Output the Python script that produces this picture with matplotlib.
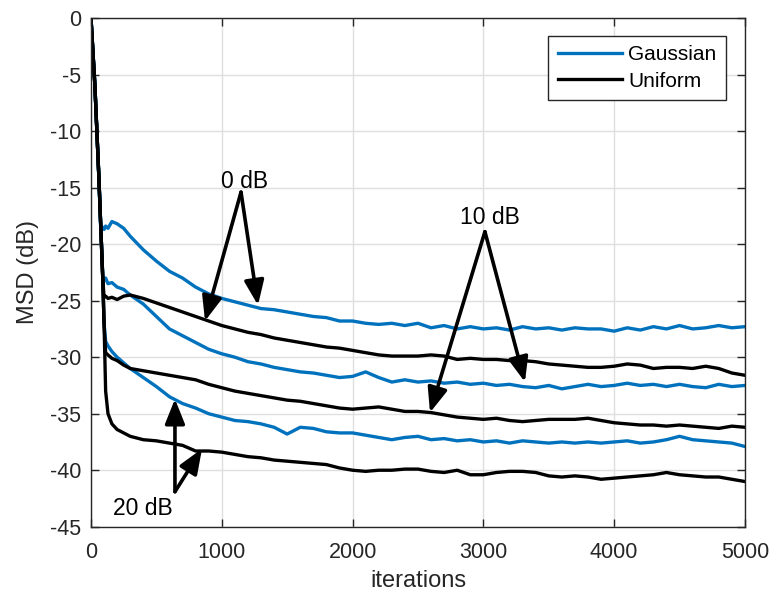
import numpy as np
import matplotlib
matplotlib.use('Agg')
import matplotlib.pyplot as plt

plt.rcParams['font.family'] = ['Liberation Sans', 'DejaVu Sans']
plt.rcParams['axes.unicode_minus'] = False

# iteration grid (dense at start, then every 100)
iters = [0, 30, 60, 75, 90, 100, 112, 130, 160, 200, 250, 300] + list(range(400, 5001, 100))

# Gaussian noise curves (0 dB, 10 dB, 20 dB)
g_0db = [0, -6, -14, -18.8, -18.5, -18.7, -18.4, -18.6, -18.0, -18.2, -18.6, -19.3,
         -20.5, -21.5, -22.4, -23.0, -23.8, -24.4, -24.8, -25.1, -25.4, -25.7, -25.8,
         -26.0, -26.2, -26.4, -26.5, -26.8, -26.8, -27.0, -27.1, -27.0, -27.2, -27.0,
         -27.4, -27.2, -27.5, -27.3, -27.5, -27.4, -27.6, -27.3, -27.5, -27.4, -27.6,
         -27.4, -27.5, -27.5, -27.7, -27.4, -27.6, -27.3, -27.5, -27.2, -27.5, -27.4,
         -27.2, -27.4, -27.3]
g_10db = [0, -6, -14, -18.5, -22.8, -23.2, -23.0, -23.5, -23.4, -23.8, -24.0, -24.5,
          -25.3, -26.4, -27.5, -28.1, -28.7, -29.3, -29.7, -30.0, -30.4, -30.6, -30.9,
          -31.1, -31.3, -31.4, -31.6, -31.8, -31.7, -31.3, -31.8, -32.2, -32.0, -32.2,
          -32.1, -32.3, -32.2, -32.4, -32.3, -32.5, -32.4, -32.6, -32.7, -32.5, -32.8,
          -32.6, -32.4, -32.6, -32.5, -32.3, -32.5, -32.4, -32.6, -32.4, -32.6, -32.7,
          -32.4, -32.6, -32.5]
g_20db = [0, -6, -14, -18.5, -23.0, -27.0, -28.6, -29.0, -29.5, -30.0, -30.5, -31.0,
          -31.8, -32.6, -33.5, -34.1, -34.5, -35.0, -35.3, -35.6, -35.7, -35.9, -36.2,
          -36.8, -36.2, -36.3, -36.6, -36.7, -36.7, -36.9, -37.1, -37.3, -37.1, -37.0,
          -37.3, -37.2, -37.4, -37.3, -37.5, -37.4, -37.6, -37.4, -37.5, -37.6, -37.5,
          -37.6, -37.5, -37.6, -37.5, -37.4, -37.6, -37.5, -37.3, -37.0, -37.3, -37.4,
          -37.5, -37.6, -37.9]

# Uniform noise curves (0 dB, 10 dB, 20 dB)
u_0db = [0, -6, -14, -18.5, -23.0, -24.7, -24.6, -24.8, -24.7, -24.9, -24.6, -24.5,
         -24.8, -25.2, -25.6, -26.0, -26.4, -26.8, -27.2, -27.5, -27.8, -28.0, -28.3,
         -28.5, -28.7, -28.9, -29.1, -29.2, -29.4, -29.6, -29.8, -29.9, -29.9, -29.9,
         -29.8, -29.9, -30.2, -30.1, -30.2, -30.2, -30.3, -30.3, -30.4, -30.6, -30.7,
         -30.8, -30.9, -30.9, -30.8, -30.6, -30.7, -31.0, -30.9, -30.9, -31.0, -30.8,
         -31.0, -31.4, -31.6]
u_10db = [0, -6, -14, -18.5, -23.0, -27.0, -29.6, -29.8, -30.1, -30.3, -30.7, -31.0,
          -31.2, -31.4, -31.6, -31.8, -32.0, -32.4, -32.7, -33.0, -33.2, -33.4, -33.6,
          -33.8, -33.9, -34.1, -34.3, -34.5, -34.6, -34.5, -34.4, -34.6, -34.8, -34.8,
          -34.9, -35.1, -35.3, -35.4, -35.5, -35.4, -35.6, -35.7, -35.6, -35.5, -35.5,
          -35.5, -35.4, -35.6, -35.8, -35.9, -36.0, -36.0, -36.1, -36.0, -36.1, -36.2,
          -36.3, -36.1, -36.2]
u_20db = [0, -6, -14, -18.5, -23.0, -27.0, -33.0, -35.0, -35.9, -36.4, -36.7, -37.0,
          -37.3, -37.4, -37.6, -37.8, -38.3, -38.3, -38.4, -38.6, -38.8, -38.9, -39.1,
          -39.2, -39.3, -39.4, -39.5, -39.8, -40.0, -40.1, -40.0, -40.0, -39.9, -39.9,
          -40.1, -40.2, -40.0, -40.4, -40.4, -40.2, -40.1, -40.1, -40.2, -40.5, -40.6,
          -40.5, -40.6, -40.8, -40.7, -40.6, -40.5, -40.4, -40.2, -40.4, -40.5, -40.6,
          -40.6, -40.8, -41.0]

blue = '#0072BD'
dark = '#262626'

fig = plt.figure(figsize=(7.73, 6.02), dpi=100)
fig.set_facecolor('white')
ax = fig.add_axes([0.1177, 0.125, 0.846, 0.845])

lw = 2.4
for i, y in enumerate([g_0db, g_10db, g_20db]):
    ax.plot(iters, y, color=blue, lw=lw, label='Gaussian' if i == 0 else None)
for i, y in enumerate([u_0db, u_10db, u_20db]):
    ax.plot(iters, y, color='black', lw=lw, label='Uniform' if i == 0 else None)

ax.set_xlim(0, 5000)
ax.set_ylim(-45, 0)
ax.set_xticks(range(0, 5001, 1000))
ax.set_yticks(range(-45, 1, 5))
ax.grid(True, color='#dfdfdf', lw=1)
ax.set_axisbelow(True)
ax.tick_params(direction='in', top=True, right=True, labelsize=15.5, colors=dark,
               length=6, width=1)
ax.tick_params(axis='x', pad=11)
ax.tick_params(axis='y', pad=7)
for s in ax.spines.values():
    s.set_color(dark)
    s.set_linewidth(1)
ax.set_xlabel('iterations', fontsize=17, color=dark, labelpad=5)
ax.set_ylabel('MSD (dB)', fontsize=17, color=dark, labelpad=8)

leg = ax.legend(loc='upper right', bbox_to_anchor=(0.971, 0.9647), borderaxespad=0,
                fontsize=15, fancybox=False, framealpha=1, edgecolor=dark,
                handlelength=3.1, handletextpad=0.3, borderpad=0.45, labelspacing=0.35)
leg.get_frame().set_linewidth(1)

# annotations with arrows
arr = dict(arrowstyle='-|>,head_length=0.75,head_width=0.3', lw=2.6, color='black',
           mutation_scale=20, shrinkA=0, shrinkB=0)
ax.text(1177, -14.5, '0 dB', fontsize=16.5, ha='center', va='center')
ax.annotate('', xy=(872, -26.8), xytext=(1147, -15.4), arrowprops=arr)
ax.annotate('', xy=(1277, -25.4), xytext=(1147, -15.4), arrowprops=arr)

ax.text(3050, -17.6, '10 dB', fontsize=16.5, ha='center', va='center')
ax.annotate('', xy=(2592, -34.9), xytext=(3012, -18.9), arrowprops=arr)
ax.annotate('', xy=(3318, -32.2), xytext=(3012, -18.9), arrowprops=arr)

ax.text(398, -43.4, '20 dB', fontsize=16.5, ha='center', va='center')
ax.annotate('', xy=(642, -33.7), xytext=(642, -41.9), arrowprops=arr)
ax.annotate('', xy=(849, -38.1), xytext=(642, -41.9), arrowprops=arr)

fig.savefig('out.png', dpi=100)
